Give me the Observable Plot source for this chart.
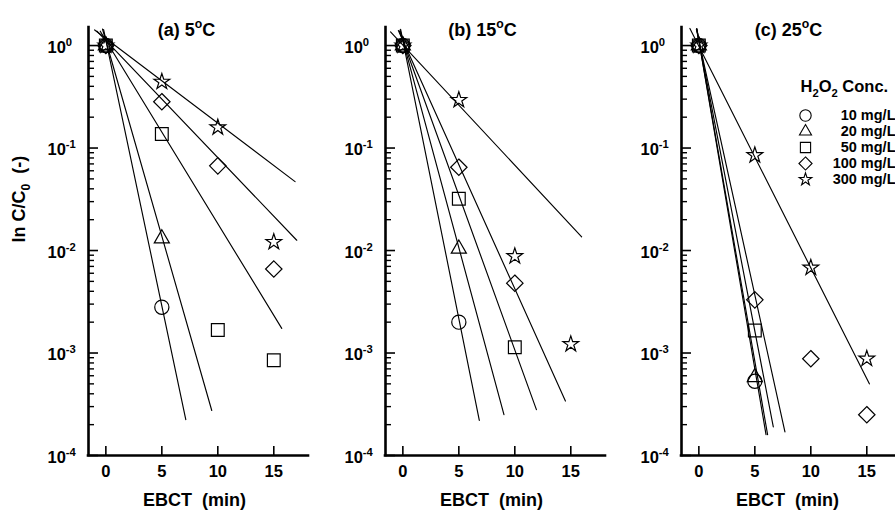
<!DOCTYPE html>
<html><head><meta charset="utf-8">
<script src="https://cdn.jsdelivr.net/npm/d3@7"></script>
<script src="https://cdn.jsdelivr.net/npm/@observablehq/plot@0.6"></script>
<style>
body{margin:0;background:#fff;}
#chart{position:relative;width:895px;height:519px;overflow:hidden;background:#fff;font-family:"Liberation Sans",Arial,sans-serif;}
#chart svg{position:absolute;top:0;overflow:visible;}
#chart text{white-space:pre;}
</style></head><body><div id="chart"></div>
<script>
// ---------- data ----------
const series = ["10 mg/L", "20 mg/L", "50 mg/L", "100 mg/L", "300 mg/L"];
const symbols = ["circle", "triangle", "square", "diamond2", "star"];
const ebct = [0, 5, 10, 15];
const panelTitles = ["(a) 5^{o}C", "(b) 15^{o}C", "(c) 25^{o}C"];
const yTicks = [1e-4, 1e-3, 1e-2, 1e-1, 1];
const yTickExp = ["-4", "-3", "-2", "-1", "0"];
const xLabel = "EBCT  (min)";
const yLabel = "ln C/C_{0}  (-)";
const legendTitle = "H_{2}O_{2} Conc.";

// measured C/C0 at EBCT 0,5,10,15 (null = not measured/shown); rows follow `series`
const pointsA = [
  [1, 0.0028, null, null],
  [1, 0.0131, null, null],
  [1, 0.137, 0.00168, 0.00085],
  [1, 0.283, 0.067, 0.0066],
  [1, 0.443, 0.159, 0.0121]
];
const pointsB = [
  [1, 0.0020, null, null],
  [1, 0.0104, null, null],
  [1, 0.032, 0.00114, null],
  [1, 0.065, 0.0048, null],
  [1, 0.294, 0.0088, 0.00122]
];
const pointsC = [
  [1, 0.00053, null, null],
  [1, 0.00058, null, null],
  [1, 0.00166, null, null],
  [1, 0.0033, 0.00088, 0.00025],
  [1, 0.085, 0.0068, 0.00088]
];
// fitted first-order lines: [start EBCT, start C/C0, end EBCT, end C/C0]
const fitsA = [
  [-0.2, 1.43, 7.14, 2.24e-4],
  [-0.3, 1.45, 9.46, 2.75e-4],
  [-0.5, 1.38, 15.71, 1.74e-3],
  [-0.8, 1.38, 17.05, 0.0126],
  [-1.0, 1.42, 16.9, 0.047]
];
const fitsB = [
  [-0.2, 1.44, 6.83, 2.2e-4],
  [-0.25, 1.42, 9.03, 2.5e-4],
  [-0.3, 1.38, 11.93, 2.8e-4],
  [-0.4, 1.40, 14.52, 3.4e-4],
  [-1.1, 1.36, 15.97, 0.0136]
];
const fitsC = [
  [-0.18, 1.46, 6.0, 1.6e-4],
  [-0.18, 1.45, 6.14, 1.6e-4],
  [-0.2, 1.46, 6.65, 1.9e-4],
  [-0.22, 1.44, 7.69, 1.7e-4],
  [-0.8, 1.47, 15.23, 5.0e-4]
];

// ---------- layout (not data) ----------
const symbolR = [7.1, 5.6, 7.2, 7.4, 4.95];
const ML = 88, MR = 12, MT = 27, MB = 64, W = 220, HGT = 519;
const PH = HGT - MT - MB;
const xDomain = [-1.55, 18.1];
const panelsLayout = [
  {left: 0, pts: pointsA, fits: fitsA, titleDx: -12, ylab: true},
  {left: 297.3, pts: pointsB, fits: fitsB, titleDx: -13, ylab: false},
  {left: 593.3, pts: pointsC, fits: fitsC, titleDx: -3, ylab: false}
];
const minorTicks = yTicks.slice(0, -1).flatMap(d => [2,3,4,5,6,7,8,9].map(k => k * d));

function rich(el, str, size) {
  el.textContent = "";
  const re = /([\^_])\{([^}]*)\}/g;
  let last = 0, m, cur = 0;
  const add = (txt, fs, target) => {
    const t = document.createElementNS("http://www.w3.org/2000/svg", "tspan");
    t.textContent = txt;
    t.setAttribute("font-size", fs);
    const dy = target - cur;
    if (dy !== 0) t.setAttribute("dy", dy);
    cur = target;
    el.appendChild(t);
  };
  while ((m = re.exec(str))) {
    if (m.index > last) add(str.slice(last, m.index), size, 0);
    add(m[2], size * 0.68, m[1] === "^" ? -0.42 * size : 0.28 * size);
    last = re.lastIndex;
  }
  if (last < str.length) add(str.slice(last), size, 0);
}
function richify(svg) {
  d3.select(svg).selectAll("text").each(function() {
    const s = this.textContent;
    if (/[\^_]\{/.test(s)) {
      const fs = parseFloat(this.getAttribute("font-size") || this.closest("[font-size]")?.getAttribute("font-size") || 16);
      rich(this, s, fs);
    }
  });
}

const chart = document.getElementById("chart");
const baseStyle = {fontFamily: "'Liberation Sans', Arial, sans-serif", fontWeight: "bold", background: "transparent", color: "black", overflow: "visible"};

panelsLayout.forEach((p, pi) => {
  const marks = [];
  // axis frame lines
  marks.push(Plot.ruleY([yTicks[0]], {stroke: "black", strokeWidth: 2.6, strokeLinecap: "square"}));
  marks.push(Plot.ruleX([xDomain[0]], {stroke: "black", strokeWidth: 2.6, strokeLinecap: "square"}));
  // inward ticks
  marks.push(Plot.tickY(yTicks, {y: d => d, insetRight: W - 10, stroke: "black", strokeWidth: 1.6}));
  marks.push(Plot.tickY(minorTicks, {y: d => d, insetRight: W - 6, stroke: "black", strokeWidth: 1.4}));
  marks.push(Plot.tickX(ebct, {x: d => d, insetTop: PH - 9, stroke: "black", strokeWidth: 1.6}));
  // tick labels
  marks.push(Plot.text(yTicks, {y: d => d, text: (d, i) => "10^{" + yTickExp[i] + "}", frameAnchor: "left", dx: -41, dy: 2, textAnchor: "start", fontSize: 16.5, fontWeight: "bold", fill: "black"}));
  marks.push(Plot.text(ebct, {x: d => d, text: d => String(d), frameAnchor: "bottom", dy: 21, fontSize: 16.5, fontWeight: "bold", fill: "black"}));
  // fitted lines
  p.fits.forEach(f => {
    marks.push(Plot.line([{t: f[0], v: f[1]}, {t: f[2], v: f[3]}], {x: "t", y: "v", stroke: "black", strokeWidth: 1.15}));
  });
  // measured points
  p.pts.forEach((vals, i) => {
    const data = ebct.map((t, j) => ({t, v: vals[j]})).filter(d => d.v != null);
    marks.push(Plot.dot(data, {x: "t", y: "v", symbol: symbols[i], r: symbolR[i], stroke: "black", fill: "none", strokeWidth: 1.2}));
  });
  // titles and axis labels
  marks.push(Plot.text([panelTitles[pi]], {frameAnchor: "top", dx: p.titleDx, dy: -4.5, fontSize: 18, fontWeight: "bold", fill: "black"}));
  marks.push(Plot.text([xLabel], {frameAnchor: "bottom", dx: -4, dy: 50, fontSize: 18, fontWeight: "bold", fill: "black"}));
  if (p.ylab) {
    marks.push(Plot.text([yLabel], {frameAnchor: "left", dx: -69, dy: 1, rotate: -90, fontSize: 18, fontWeight: "bold", fill: "black"}));
  }
  const svg = Plot.plot({
    width: ML + W + MR, height: HGT,
    marginLeft: ML, marginRight: MR, marginTop: MT, marginBottom: MB,
    style: baseStyle,
    x: {domain: xDomain, axis: null},
    y: {type: "log", domain: [1e-4, 1.5], axis: null},
    marks
  });
  svg.style.left = p.left + "px";
  richify(svg);
  chart.appendChild(svg);
});

// legend (separate mini plot, categories through a point scale)
const LR = 0.8;
const legendMarks = [
  Plot.text([legendTitle], {frameAnchor: "top-left", dx: 5, dy: 20, textAnchor: "start", fontSize: 16.5, fontWeight: "bold", fill: "black"}),
  Plot.text(series, {y: d => d, frameAnchor: "right", textAnchor: "end", fontSize: 14.5, fontWeight: "bold", fill: "black"})
];
series.forEach((s, i) => {
  legendMarks.push(Plot.dot([s], {y: d => d, frameAnchor: "left", dx: 10, symbol: symbols[i], r: symbolR[i] * LR, stroke: "black", fill: "none", strokeWidth: 1.1}));
});
const legend = Plot.plot({
  width: 100, height: 150, margin: 0,
  style: baseStyle,
  y: {type: "point", domain: series, range: [46.3, 128.7], axis: null},
  marks: legendMarks
});
legend.style.left = "795px";
legend.style.top = "60px";
richify(legend);
chart.appendChild(legend);
</script>
</body></html>
